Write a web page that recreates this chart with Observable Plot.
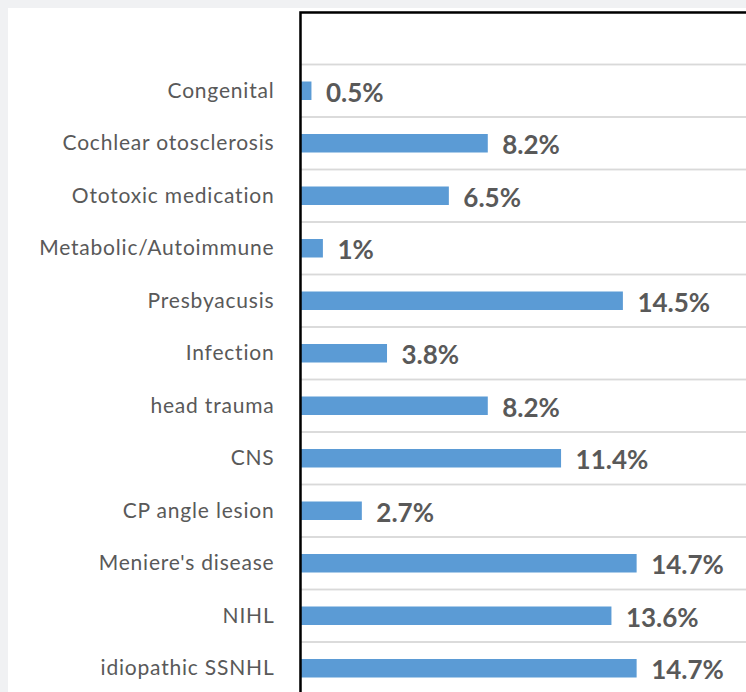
<!DOCTYPE html>
<html>
<head>
<meta charset="utf-8">
<script src="https://cdn.jsdelivr.net/npm/d3@7"></script>
<script src="https://cdn.jsdelivr.net/npm/@observablehq/plot@0.6"></script>
<style>
  html, body { margin: 0; padding: 0; width: 746px; height: 692px; overflow: hidden; background: #f0f1f3; }
  #panel { position: absolute; left: 8px; top: 8px; width: 760px; height: 700px; background: #ffffff; }
  #chart { position: absolute; left: 0; top: 0; width: 760px; }
  #chart svg { max-width: none !important; }
  #chart svg g[aria-label="text"] { letter-spacing: 0; }
</style>
</head>
<body>
<div id="panel"></div>
<div id="chart"></div>
<script>
// Data (top to bottom)
const categories = [
  "Congenital",
  "Cochlear otosclerosis",
  "Ototoxic medication",
  "Metabolic/Autoimmune",
  "Presbyacusis",
  "Infection",
  "head trauma",
  "CNS",
  "CP angle lesion",
  "Meniere's disease",
  "NIHL",
  "idiopathic SSNHL"
];
const values = [0.5, 8.2, 6.5, 1, 14.1, 3.8, 8.2, 11.4, 2.7, 14.7, 13.6, 14.7];
const valueLabels = ["0.5%", "8.2%", "6.5%", "1%", "14.5%", "3.8%", "8.2%", "11.4%", "2.7%", "14.7%", "13.6%", "14.7%"];

const blank = " ";
const yDomain = [blank, ...categories];
const data = categories.map((c, i) => ({category: c, value: values[i], label: valueLabels[i]}));

const width = 760, marginLeft = 300;
const xMax = (width - marginLeft) / 22.9;

const chart = Plot.plot({
  width: width,
  height: 700,
  marginLeft: marginLeft,
  marginRight: 0,
  marginTop: 12,
  marginBottom: 5.5,
  style: {background: "transparent", fontFamily: "Lato", fontSize: "21px", color: "#595959", overflow: "visible", maxWidth: "none", letterSpacing: "0.8px"},
  x: {domain: [0, xMax], axis: null},
  y: {domain: yDomain, padding: 0, round: false, tickSize: 0, tickPadding: 26, label: null},
  marks: [
    Plot.barX(yDomain, {x1: 0, x2: xMax, y: d => d, fill: "none", stroke: "#d9d9d9", strokeWidth: 1.5}),
    Plot.barX(data, {x: "value", y: "category", fill: "#5b9bd5", insetTop: 17, insetBottom: 17}),
    Plot.text(data, {x: "value", y: "category", text: "label", textAnchor: "start", dx: 14, dy: 2,
      fill: "#595959", fontWeight: "bold", fontSize: 26, fontFamily: "Lato"}),
    Plot.frame({stroke: "black", strokeWidth: 2.5})
  ]
});
document.getElementById("chart").appendChild(chart);
</script>
</body>
</html>
